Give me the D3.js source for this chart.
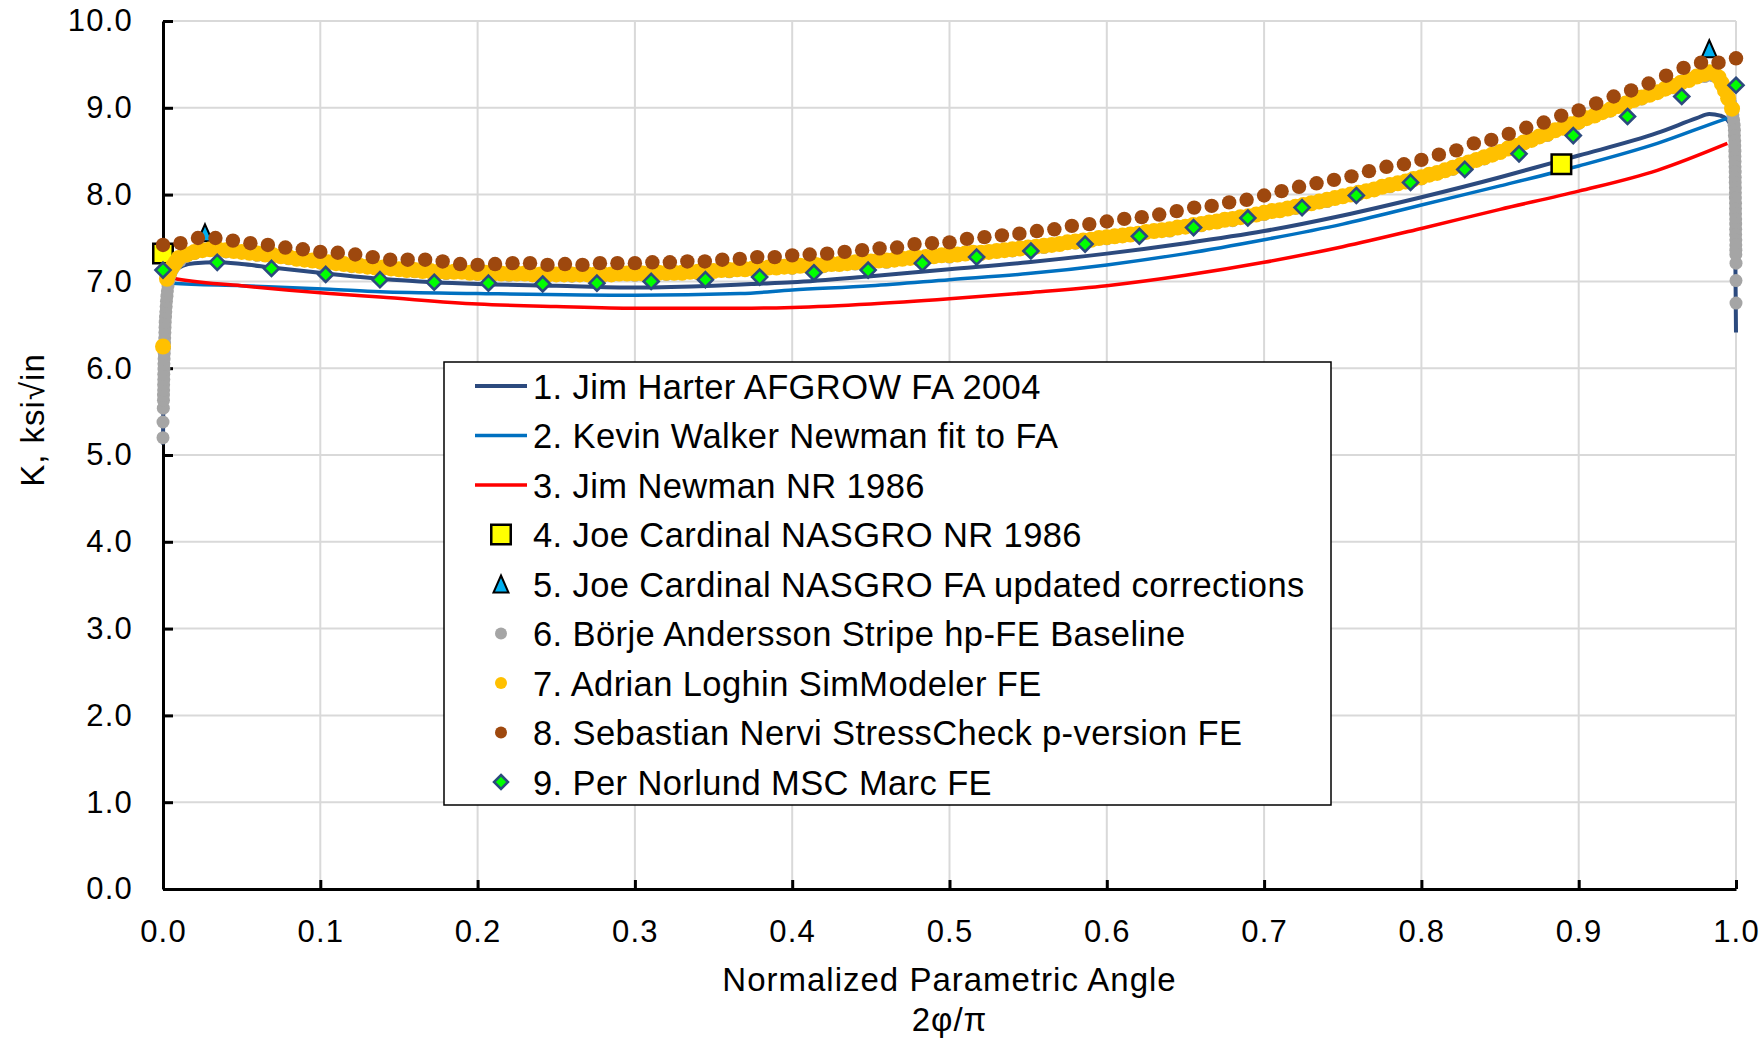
<!DOCTYPE html>
<html>
<head>
<meta charset="utf-8">
<script src="https://cdn.jsdelivr.net/npm/d3@7"></script>
<style>
  body { margin: 0; background: #fff; }
  text { font-family: "Liberation Sans", Arial, sans-serif; fill: #000; }
</style>
</head>
<body>
<svg id="chart" width="1764" height="1039"></svg>
<script>
// ---- axis ticks ----
const xTickValues = [0, 0.1, 0.2, 0.3, 0.4, 0.5, 0.6, 0.7, 0.8, 0.9, 1.0];
const xTickLabels = ["0.0", "0.1", "0.2", "0.3", "0.4", "0.5", "0.6", "0.7", "0.8", "0.9", "1.0"];
const yTickValues = [0, 1, 2, 3, 4, 5, 6, 7, 8, 9, 10];
const yTickLabels = ["0.0", "1.0", "2.0", "3.0", "4.0", "5.0", "6.0", "7.0", "8.0", "9.0", "10.0"];

// ---- series names ----
const seriesNames = [
  "1. Jim Harter AFGROW FA 2004",
  "2. Kevin Walker Newman fit to FA",
  "3. Jim Newman NR 1986",
  "4. Joe Cardinal NASGRO NR 1986",
  "5. Joe Cardinal NASGRO FA updated corrections",
  "6. Börje Andersson Stripe hp-FE Baseline",
  "7. Adrian Loghin SimModeler FE",
  "8. Sebastian Nervi StressCheck p-version FE",
  "9. Per Norlund MSC Marc FE"
];

// 1. Harter AFGROW FA 2004  [2phi/pi, K]
const harterFA = [
  [0, 5.12], [0.0005, 6.3], [0.0015, 6.8], [0.003, 6.98], [0.006, 7.08], [0.0127, 7.18],
  [0.02, 7.21], [0.034, 7.22], [0.05, 7.20], [0.069, 7.16], [0.104, 7.09], [0.138, 7.03],
  [0.172, 6.99], [0.2, 6.97], [0.25, 6.95], [0.3, 6.93], [0.35, 6.95], [0.374, 6.97],
  [0.4, 6.99], [0.45, 7.06], [0.5, 7.14], [0.55, 7.22], [0.6, 7.32], [0.65, 7.44],
  [0.7, 7.58], [0.75, 7.76], [0.8, 7.97], [0.85, 8.2], [0.882, 8.36], [0.9, 8.45],
  [0.95, 8.71], [0.975, 8.88], [0.983, 8.93], [0.99, 8.91], [0.994, 8.87], [0.997, 8.78],
  [0.999, 8.5], [1.0, 6.41]
];

// 2. Walker Newman fit to FA
const walkerFit = [
  [0, 7.0], [0.006, 6.98], [0.05, 6.95], [0.106, 6.91], [0.138, 6.88], [0.2, 6.86],
  [0.3, 6.84], [0.367, 6.86], [0.4, 6.9], [0.45, 6.95], [0.5, 7.02], [0.55, 7.09],
  [0.6, 7.19], [0.65, 7.32], [0.7, 7.48], [0.75, 7.66], [0.8, 7.88], [0.85, 8.1],
  [0.9, 8.33], [0.95, 8.59], [0.993, 8.87], [0.998, 8.9]
];

// 3. Newman NR 1986
const newmanNR = [
  [0, 7.07], [0.006, 7.04], [0.05, 6.95], [0.106, 6.86], [0.138, 6.82], [0.2, 6.74],
  [0.25, 6.71], [0.3, 6.69], [0.367, 6.69], [0.4, 6.70], [0.45, 6.74], [0.5, 6.80],
  [0.55, 6.87], [0.6, 6.95], [0.65, 7.07], [0.7, 7.22], [0.75, 7.40], [0.8, 7.61],
  [0.85, 7.83], [0.9, 8.04], [0.95, 8.28], [0.9945, 8.59]
];

// 4. Cardinal NASGRO NR 1986
const cardinalNR = [[0, 7.32], [0.889, 8.35]];

// 5. Cardinal NASGRO FA updated corrections
const cardinalFA = [[0.0267, 7.56], [0.983, 9.68]];

// 6. Andersson Stripe hp-FE baseline: near-surface points, interior points (step 0.02), far end
const anderssonStart = [
  [0, 5.20], [0, 5.38], [0.0002, 5.54], [0.0003, 5.63], [0.0003, 5.69], [0.0004, 5.75],
  [0.0004, 5.81], [0.0005, 5.87], [0.0005, 5.93], [0.0006, 5.99], [0.0006, 6.05], [0.0007, 6.11],
  [0.0008, 6.17], [0.0009, 6.23], [0.001, 6.29], [0.0011, 6.35], [0.0012, 6.41], [0.0013, 6.47],
  [0.0014, 6.53], [0.0016, 6.59], [0.0018, 6.65], [0.002, 6.71], [0.0022, 6.77], [0.0025, 6.83],
  [0.0028, 6.89], [0.0032, 6.95], [0.0037, 7.01], [0.0045, 7.07], [0.006, 7.13], [0.008, 7.19],
  [0.011, 7.24], [0.015, 7.29]
];
const anderssonMidK = [
  7.32, 7.34, 7.30, 7.26, 7.21, 7.17, 7.14, 7.11, 7.09, 7.08,
  7.07, 7.06, 7.06, 7.06, 7.07, 7.08, 7.09, 7.11, 7.13, 7.15,
  7.17, 7.20, 7.22, 7.25, 7.28, 7.31, 7.35, 7.39, 7.44, 7.49,
  7.53, 7.58, 7.64, 7.70, 7.77, 7.84, 7.92, 8.00, 8.09, 8.18,
  8.29, 8.41, 8.54, 8.68, 8.82, 8.96, 9.10, 9.23, 9.36
];
const anderssonEnd = [
  [0.985, 9.37], [0.990, 9.30], [0.993, 9.22], [0.995, 9.14], [0.9965, 9.06], [0.9975, 8.99],
  [0.998, 8.92], [0.9985, 8.86], [0.9988, 8.80], [0.999, 8.74], [0.999, 8.68], [0.9992, 8.62],
  [0.9992, 8.56], [0.9993, 8.50], [0.9993, 8.44], [0.9994, 8.38], [0.9994, 8.32], [0.9995, 8.26],
  [0.9995, 8.20], [0.9995, 8.14], [0.9996, 8.08], [0.9996, 8.02], [0.9996, 7.96], [0.9997, 7.90],
  [0.9997, 7.84], [0.9997, 7.78], [0.9998, 7.72], [0.9998, 7.66], [0.9998, 7.60], [0.9998, 7.54],
  [0.9999, 7.48], [0.9999, 7.42], [0.9999, 7.36], [0.9999, 7.31], [1.0, 7.21], [1.0, 7.01], [1.0, 6.75]
];

// 7. Loghin SimModeler FE: start points, interior (step 0.005 from 0.01), end points
const loghinStart = [[0, 6.25], [0.0025, 7.03], [0.004, 7.10], [0.006, 7.17], [0.008, 7.22]];
const loghinK = [
  7.27, 7.31, 7.34, 7.36, 7.37, 7.37, 7.36, 7.35, 7.34, 7.33, 7.32, 7.31, 7.30, 7.29, 7.28, 7.26, 7.25, 7.24, 7.23, 7.22,
  7.21, 7.20, 7.19, 7.18, 7.17, 7.16, 7.16, 7.15, 7.14, 7.13, 7.13, 7.12, 7.12, 7.11, 7.11, 7.11, 7.11, 7.10, 7.10, 7.10,
  7.09, 7.09, 7.09, 7.09, 7.09, 7.08, 7.08, 7.08, 7.08, 7.08, 7.08, 7.08, 7.08, 7.08, 7.08, 7.08, 7.09, 7.09, 7.09, 7.09,
  7.09, 7.10, 7.10, 7.10, 7.10, 7.11, 7.11, 7.12, 7.12, 7.13, 7.13, 7.14, 7.14, 7.15, 7.15, 7.16, 7.16, 7.17, 7.17, 7.18,
  7.18, 7.19, 7.19, 7.20, 7.20, 7.21, 7.22, 7.22, 7.23, 7.24, 7.24, 7.25, 7.26, 7.27, 7.27, 7.28, 7.29, 7.30, 7.30, 7.31,
  7.32, 7.33, 7.33, 7.34, 7.35, 7.36, 7.37, 7.38, 7.39, 7.40, 7.41, 7.42, 7.43, 7.45, 7.46, 7.47, 7.48, 7.50, 7.51, 7.52,
  7.53, 7.54, 7.55, 7.57, 7.58, 7.59, 7.60, 7.62, 7.63, 7.65, 7.66, 7.68, 7.69, 7.71, 7.72, 7.74, 7.75, 7.77, 7.79, 7.81,
  7.82, 7.84, 7.86, 7.88, 7.90, 7.92, 7.94, 7.96, 7.98, 8.00, 8.02, 8.04, 8.06, 8.09, 8.11, 8.13, 8.15, 8.18, 8.20, 8.23,
  8.25, 8.28, 8.31, 8.34, 8.37, 8.40, 8.43, 8.46, 8.49, 8.53, 8.56, 8.60, 8.63, 8.67, 8.70, 8.74, 8.77, 8.81, 8.84, 8.88,
  8.91, 8.95, 8.98, 9.02, 9.05, 9.09, 9.12, 9.15, 9.18, 9.22, 9.25, 9.29, 9.32, 9.36, 9.39
];
const loghinEnd = [[0.983, 9.41], [0.986, 9.40], [0.989, 9.35], [0.991, 9.28], [0.993, 9.20], [0.995, 9.11], [0.9975, 8.99]];

// 8. Nervi StressCheck p-version FE, one point per degree (x = i/90)
const nerviK = [
  7.42, 7.44, 7.50, 7.50, 7.47, 7.44, 7.42, 7.39, 7.37, 7.34,
  7.33, 7.31, 7.28, 7.25, 7.25, 7.25, 7.23, 7.20, 7.19, 7.20,
  7.21, 7.21, 7.19, 7.20, 7.19, 7.21, 7.21, 7.21, 7.22, 7.22,
  7.23, 7.23, 7.25, 7.26, 7.28, 7.28, 7.30, 7.31, 7.32, 7.34,
  7.36, 7.38, 7.39, 7.43, 7.44, 7.45, 7.49, 7.51, 7.53, 7.55,
  7.58, 7.60, 7.64, 7.66, 7.69, 7.72, 7.74, 7.77, 7.81, 7.85,
  7.87, 7.91, 7.94, 7.99, 8.04, 8.09, 8.13, 8.17, 8.21, 8.27,
  8.32, 8.35, 8.40, 8.46, 8.51, 8.59, 8.63, 8.70, 8.77, 8.83,
  8.91, 8.97, 9.05, 9.13, 9.20, 9.28, 9.37, 9.46, 9.52, 9.52,
  9.57
];

// 9. Norlund MSC Marc FE, 30 points (x = k/29)
const norlundK = [
  7.13, 7.22, 7.15, 7.08, 7.02, 6.99, 6.98, 6.97, 6.98, 7.00,
  7.02, 7.05, 7.10, 7.13, 7.21, 7.28, 7.35, 7.43, 7.52, 7.62,
  7.73, 7.85, 7.99, 8.14, 8.29, 8.47, 8.68, 8.90, 9.13, 9.26
];

// ---- assemble point lists ----
const anderssonPts = anderssonStart
  .concat(anderssonMidK.map((k, i) => [0.02 * (i + 1), k]))
  .concat(anderssonEnd);
const loghinPts = loghinStart
  .concat(loghinK.map((k, i) => [0.01 + 0.005 * i, k]))
  .concat(loghinEnd);
const nerviPts = nerviK.map((k, i) => [i / 90, k]);
const norlundPts = norlundK.map((k, i) => [i / 29, k]);

// ---- colours ----
const NAVY = "#2C4A7E", BLUE = "#0070C0", RED = "#FF0000";
const YELLOW = "#FFFF00", CYAN = "#00B0F0", GREY = "#A5A5A5";
const ORANGE = "#FFC000", BROWN = "#9E480E", GREEN = "#00FF00";

const svg = d3.select("#chart");
const x = d3.scaleLinear().domain([0, 1]).range([163, 1736]);
const y = d3.scaleLinear().domain([0, 10]).range([889, 21]);

// ---- gridlines ----
const grid = svg.append("g");
grid.selectAll("line.v").data(xTickValues.slice(1)).join("line")
  .attr("x1", d => x(d)).attr("x2", d => x(d))
  .attr("y1", y(0)).attr("y2", y(10))
  .attr("stroke", "#D9D9D9").attr("stroke-width", 2);
grid.selectAll("line.h").data(yTickValues.slice(1)).join("line")
  .attr("x1", x(0)).attr("x2", x(1))
  .attr("y1", d => y(d)).attr("y2", d => y(d))
  .attr("stroke", "#D9D9D9").attr("stroke-width", 2);

// ---- axes ----
function styleAxis(g, ls) {
  g.attr("font-family", null).attr("font-size", null);
  g.select(".domain").attr("stroke", "#000").attr("stroke-width", 3);
  g.selectAll(".tick line").attr("stroke", "#000").attr("stroke-width", 3);
  g.selectAll(".tick text")
    .style("font-family", "'Liberation Sans', Arial, sans-serif")
    .style("font-size", "31px").style("letter-spacing", ls + "px").attr("fill", "#000");
}
const yAxis = d3.axisLeft(y).tickValues(yTickValues)
  .tickFormat(d => yTickLabels[yTickValues.indexOf(d)])
  .tickSizeInner(-10).tickSizeOuter(0).tickPadding(30);
svg.append("g").attr("transform", `translate(${x(0)},0)`).call(yAxis).call(g => styleAxis(g, 1.2));

const xAxis = d3.axisBottom(x).tickValues(xTickValues)
  .tickFormat(d => xTickLabels[xTickValues.indexOf(d)])
  .tickSizeInner(-9).tickSizeOuter(0).tickPadding(31);
svg.append("g").attr("transform", `translate(0,${y(0)})`).call(xAxis).call(g => styleAxis(g, 1.2));

// ---- axis titles ----
svg.append("text")
  .attr("transform", `translate(44,420) rotate(-90)`)
  .attr("text-anchor", "middle")
  .style("font-size", "33px").style("letter-spacing", "1px")
  .text("K, ksi\u221Ain");
svg.append("text")
  .attr("x", 949.5).attr("y", 991).attr("text-anchor", "middle")
  .style("font-size", "33px").style("letter-spacing", "1px")
  .text("Normalized Parametric Angle");
svg.append("text")
  .attr("x", 949.5).attr("y", 1031).attr("text-anchor", "middle")
  .style("font-size", "33px").style("letter-spacing", "1px")
  .text("2\u03C6/\u03C0");

// ---- marker shapes ----
const squarePath = s => `M${-s / 2},${-s / 2}h${s}v${s}h${-s}Z`;
const trianglePath = (w, h) => `M0,${-h / 2}L${w / 2},${h / 2}L${-w / 2},${h / 2}Z`;
const diamondPath = r => `M0,${-r}L${r},0L0,${r}L${-r},0Z`;

// ---- series ----
const line = d3.line().x(d => x(d[0])).y(d => y(d[1])).curve(d3.curveMonotoneX);
const plot = svg.append("g");

plot.append("path").datum(harterFA).attr("d", line)
  .attr("fill", "none").attr("stroke", NAVY).attr("stroke-width", 4).attr("stroke-linejoin", "round");
plot.append("path").datum(walkerFit).attr("d", line)
  .attr("fill", "none").attr("stroke", BLUE).attr("stroke-width", 3.5).attr("stroke-linejoin", "round");
plot.append("path").datum(newmanNR).attr("d", line)
  .attr("fill", "none").attr("stroke", RED).attr("stroke-width", 3.5).attr("stroke-linejoin", "round");

plot.selectAll("path.sq").data(cardinalNR).join("path").attr("class", "sq")
  .attr("transform", d => `translate(${x(d[0])},${y(d[1])})`)
  .attr("d", squarePath(19.5))
  .attr("fill", YELLOW).attr("stroke", "#000").attr("stroke-width", 2.5);

plot.selectAll("path.tri").data(cardinalFA).join("path").attr("class", "tri")
  .attr("transform", d => `translate(${x(d[0])},${y(d[1])})`)
  .attr("d", trianglePath(15, 17))
  .attr("fill", CYAN).attr("stroke", "#000").attr("stroke-width", 2).attr("stroke-linejoin", "miter");

plot.selectAll("circle.g6").data(anderssonPts).join("circle").attr("class", "g6")
  .attr("cx", d => x(d[0])).attr("cy", d => y(d[1])).attr("r", 6.5).attr("fill", GREY);

plot.selectAll("circle.o7").data(loghinPts).join("circle").attr("class", "o7")
  .attr("cx", d => x(d[0])).attr("cy", d => y(d[1])).attr("r", 8).attr("fill", ORANGE);

plot.selectAll("circle.b8").data(nerviPts).join("circle").attr("class", "b8")
  .attr("cx", d => x(d[0])).attr("cy", d => y(d[1])).attr("r", 7.2).attr("fill", BROWN);

plot.selectAll("path.dm").data(norlundPts).join("path").attr("class", "dm")
  .attr("transform", d => `translate(${x(d[0])},${y(d[1])})`)
  .attr("d", diamondPath(7.5))
  .attr("fill", GREEN).attr("stroke", NAVY).attr("stroke-width", 2.6);

// ---- legend ----
const legend = svg.append("g");
legend.append("rect")
  .attr("x", 444).attr("y", 362).attr("width", 887).attr("height", 443)
  .attr("fill", "#fff").attr("stroke", "#000").attr("stroke-width", 1.5);

const legendKinds = [
  { type: "line", color: NAVY, w: 4 },
  { type: "line", color: BLUE, w: 3.5 },
  { type: "line", color: RED, w: 3.5 },
  { type: "square" },
  { type: "triangle" },
  { type: "dot", color: GREY },
  { type: "dot", color: ORANGE },
  { type: "dot", color: BROWN },
  { type: "diamond" }
];
const rowY = i => 386 + i * 49.5;
const symX = 501;
legendKinds.forEach((k, i) => {
  const cy = rowY(i);
  if (k.type === "line") {
    legend.append("line").attr("x1", 475).attr("x2", 527).attr("y1", cy).attr("y2", cy)
      .attr("stroke", k.color).attr("stroke-width", k.w);
  } else if (k.type === "square") {
    legend.append("path").attr("transform", `translate(${symX},${cy})`).attr("d", squarePath(19.5))
      .attr("fill", YELLOW).attr("stroke", "#000").attr("stroke-width", 2.5);
  } else if (k.type === "triangle") {
    legend.append("path").attr("transform", `translate(${symX},${cy})`).attr("d", trianglePath(15, 17))
      .attr("fill", CYAN).attr("stroke", "#000").attr("stroke-width", 2);
  } else if (k.type === "dot") {
    legend.append("circle").attr("cx", symX).attr("cy", cy).attr("r", 6).attr("fill", k.color);
  } else if (k.type === "diamond") {
    legend.append("path").attr("transform", `translate(${symX},${cy})`).attr("d", diamondPath(7))
      .attr("fill", GREEN).attr("stroke", NAVY).attr("stroke-width", 2.5);
  }
  legend.append("text").attr("x", 533).attr("y", cy + 12.5)
    .style("font-size", "34.5px").style("letter-spacing", "0.4px")
    .text(seriesNames[i]);
});
</script>
</body>
</html>
